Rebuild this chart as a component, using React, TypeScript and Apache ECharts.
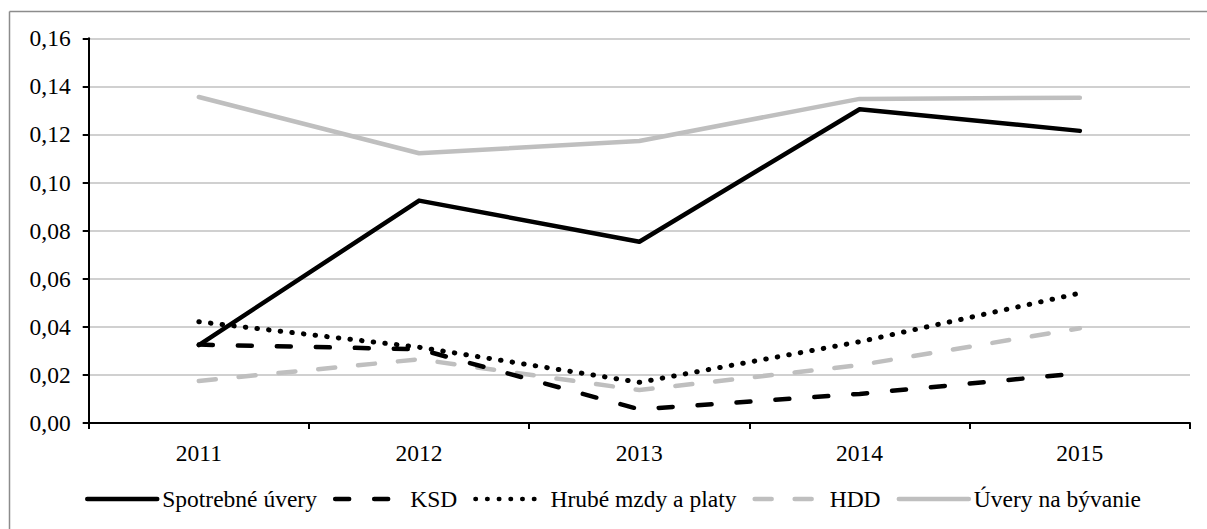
import React, { useEffect, useRef } from "react";
import * as echarts from "echarts";

const years = ["2011", "2012", "2013", "2014", "2015"];
const spotrebneUvery = [0.0324, 0.0925, 0.0754, 0.1305, 0.1215];
const ksd = [0.0326, 0.0307, 0.0057, 0.0121, 0.0207];
const hrubeMzdy = [0.0421, 0.0315, 0.0169, 0.0338, 0.054];
const hdd = [0.0175, 0.0265, 0.0137, 0.0241, 0.0394];
const uveryNaByvanie = [0.1356, 0.1122, 0.1173, 0.1348, 0.1353];

const FONT = "Times New Roman, Liberation Serif, serif";

export default function App() {
  const ref = useRef<HTMLDivElement>(null);
  useEffect(() => {
    if (!ref.current) return;
    const chart = echarts.init(ref.current, undefined, { renderer: "svg" });
    const mk = (name: string, data: number[], color: string, type: any, width = 4.5) => ({
      name,
      type: "line",
      data,
      symbol: "none",
      showSymbol: false,
      lineStyle: { color, width, type, cap: "round", join: "round" },
      itemStyle: { color },
    });
    const txt = { fontFamily: FONT, fontSize: 23.5, fontWeight: "normal", color: "#000" };
    chart.setOption({
      animation: false,
      backgroundColor: "#fff",
      textStyle: txt,
      graphic: [
        {
          type: "line",
          shape: { x1: 9.5, y1: 11.5, x2: 1207, y2: 11.5 },
          style: { stroke: "#8c8c8c", lineWidth: 1.5 },
          silent: true,
        },
        {
          type: "line",
          shape: { x1: 9.5, y1: 11.5, x2: 9.5, y2: 529 },
          style: { stroke: "#8c8c8c", lineWidth: 1.5 },
          silent: true,
        },
      ],
      grid: { left: 88.7, right: 17, top: 38.3, bottom: 106, containLabel: false },
      legend: {
        left: 80,
        top: 482,
        itemWidth: 70,
        itemHeight: 14,
        itemGap: 16,
        itemStyle: { opacity: 0 },
        lineStyle: { width: 4.5 },
        textStyle: txt,
        data: [
          "Spotrebné úvery",
          "KSD",
          "Hrubé mzdy a platy",
          "HDD",
          "Úvery na bývanie",
        ],
      },
      xAxis: {
        type: "category",
        data: years,
        boundaryGap: true,
        axisLine: { lineStyle: { color: "#000", width: 2 } },
        axisTick: { show: true, length: 6, inside: false, alignWithLabel: false, lineStyle: { color: "#000", width: 2 } },
        axisLabel: { ...txt, margin: 18 },
        splitLine: { show: false },
      },
      yAxis: {
        type: "value",
        min: 0,
        max: 0.16,
        interval: 0.02,
        axisLine: { show: true, lineStyle: { color: "#000", width: 2 } },
        axisTick: { show: true, length: 6, lineStyle: { color: "#000", width: 2 } },
        axisLabel: {
          ...txt,
          margin: 18,
          formatter: (v: number) => v.toFixed(2).replace(".", ","),
        },
        splitLine: { show: true, lineStyle: { color: "#c0c0c0", width: 1.5 } },
      },
      series: [
        mk("Úvery na bývanie", uveryNaByvanie, "#bfbfbf", "solid"),
        mk("HDD", hdd, "#bfbfbf", [17, 23]),
        mk("Hrubé mzdy a platy", hrubeMzdy, "#000", [0.5, 11.2], 5),
        mk("KSD", ksd, "#000", [14, 25]),
        mk("Spotrebné úvery", spotrebneUvery, "#000", "solid"),
      ],
    });
    return () => chart.dispose();
  }, []);
  return (
    <div
      ref={ref}
      style={{ position: "fixed", left: 0, top: 0, width: 1207, height: 529 }}
    />
  );
}
